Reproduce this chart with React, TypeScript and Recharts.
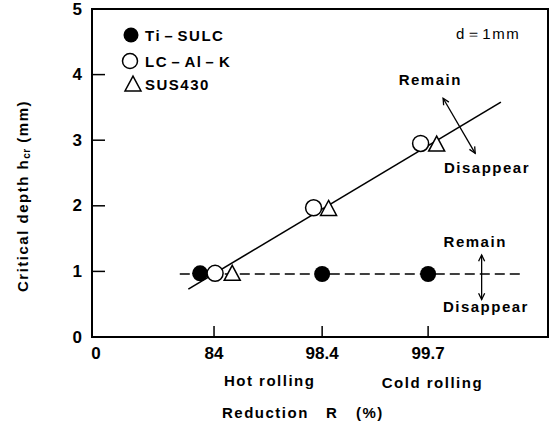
import React from 'react';
import {
  ScatterChart,
  Scatter,
  XAxis,
  YAxis,
  ReferenceLine,
  ReferenceDot,
  ReferenceArea,
} from 'recharts';

const FONT = '"Liberation Sans", Arial, Helvetica, sans-serif';

// X axis: reductions placed at evenly spaced positions (axis position units)
const xTickLabels = ['0', '84', '98.4', '99.7'];
const xTickPos = [0, 1.14, 2.15, 3.14];
const xMax = 4.26;
const yTicks = [0, 1, 2, 3, 4, 5];

// Series (x = axis position, y = critical depth in mm)
const tiSulcX = [1.01, 2.15, 3.14];
const tiSulcY = [0.97, 0.96, 0.96];
const lcAlKX = [1.15, 2.07, 3.07];
const lcAlKY = [0.97, 1.97, 2.95];
const sus430X = [1.31, 2.21, 3.22];
const sus430Y = [0.97, 1.96, 2.94];

// Boundary lines
const fitLineX = [0.9, 3.82];
const fitLineY = [0.73, 3.58];
const dashLineX = [0.82, 4.03];
const dashLineY = [0.96, 0.96];

// Arrows (double headed)
const upperArrow = [
  { x: 3.28, y: 3.64 },
  { x: 3.58, y: 2.8 },
];
const lowerArrow = [
  { x: 3.64, y: 1.25 },
  { x: 3.64, y: 0.57 },
];

// Annotations
const notes = [
  { text: 'd＝1mm', x: 3.7, y: 4.63, bold: false },
  { text: 'Remain', x: 3.16, y: 3.92, bold: true },
  { text: 'Disappear', x: 3.69, y: 2.59, bold: true },
  { text: 'Remain', x: 3.58, y: 1.46, bold: true },
  { text: 'Disappear', x: 3.68, y: 0.47, bold: true },
  { text: 'Hot  rolling', x: 1.66, y: -0.67, bold: true },
  { text: 'Cold  rolling', x: 3.18, y: -0.7, bold: true },
];

const zip = (xs: number[], ys: number[]) => xs.map((x, i) => ({ x, y: ys[i] }));

const tiSulc = zip(tiSulcX, tiSulcY);
const lcAlK = zip(lcAlKX, lcAlKY);
const sus430 = zip(sus430X, sus430Y);
const fitLine = zip(fitLineX, fitLineY);
const dashLine = zip(dashLineX, dashLineY);

const R = 8;

const FilledCircle = (p: any) => <circle cx={p.cx} cy={p.cy} r={R} fill="#000" />;
const OpenCircle = (p: any) => (
  <circle cx={p.cx} cy={p.cy} r={R} fill="#fff" stroke="#000" strokeWidth={1.5} />
);
const triPath = (cx: number, cy: number, s: number) => {
  const h = s * 0.87;
  return `M${cx},${cy - h / 2 - 1} L${cx + s / 2},${cy + h / 2} L${cx - s / 2},${cy + h / 2} Z`;
};
const Triangle = (p: any) => (
  <path d={triPath(p.cx, p.cy, 16)} fill="#fff" stroke="#000" strokeWidth={1.5} />
);
const NoShape = () => <g />;

const ArrowShape = (p: any) => {
  const { x1, y1, x2, y2 } = p;
  const a = Math.atan2(y2 - y1, x2 - x1);
  const head = (x: number, y: number, ang: number) => {
    const L = 7;
    const w = 0.45;
    return `M${x + L * Math.cos(ang + w)},${y + L * Math.sin(ang + w)} L${x},${y} L${
      x + L * Math.cos(ang - w)
    },${y + L * Math.sin(ang - w)}`;
  };
  return (
    <g>
      <line x1={x1} y1={y1} x2={x2} y2={y2} stroke="#000" strokeWidth={1.3} />
      <path d={head(x1, y1, a)} fill="none" stroke="#000" strokeWidth={1.3} />
      <path d={head(x2, y2, a + Math.PI)} fill="none" stroke="#000" strokeWidth={1.3} />
    </g>
  );
};

const makeText = (text: string, bold: boolean) => (p: any) => (
  <text
    x={p.cx}
    y={p.cy}
    textAnchor="middle"
    dominantBaseline="central"
    fontFamily={FONT}
    fontSize={15}
    fontWeight={bold ? 700 : 400}
    letterSpacing={1.5}
    fill="#000"
  >
    {text}
  </text>
);

const XTick = (p: any) => {
  const { x, y, payload } = p;
  const idx = xTickPos.indexOf(payload.value);
  const label = idx >= 0 ? xTickLabels[idx] : String(payload.value);
  return (
    <g>
      {payload.value !== 0 && <line x1={x} y1={y} x2={x} y2={y - 11} stroke="#000" strokeWidth={1.5} />}
      <text
        x={payload.value === 0 ? x + 4 : x}
        y={y + 16}
        textAnchor="middle"
        dominantBaseline="central"
        fontFamily={FONT}
        fontSize={17}
        fontWeight={700}
        fill="#000"
      >
        {label}
      </text>
    </g>
  );
};

const YTick = (p: any) => {
  const { x, y, payload } = p;
  const v = payload.value;
  return (
    <g>
      {v !== 0 && v !== 5 && <line x1={x} y1={y} x2={x + 13} y2={y} stroke="#000" strokeWidth={1.5} />}
      <text
        x={x - 10}
        y={y}
        textAnchor="end"
        dominantBaseline="central"
        fontFamily={FONT}
        fontSize={17}
        fontWeight={700}
        fill="#000"
      >
        {v}
      </text>
    </g>
  );
};

const legendItems = [
  { name: 'Ti－SULC', shape: 'filled', cx: 131, cy: 35 },
  { name: 'LC－Al－K', shape: 'open', cx: 130, cy: 61 },
  { name: 'SUS430', shape: 'tri', cx: 133, cy: 84 },
];

const LegendBox = () => (
  <g>
    {legendItems.map((it) => (
      <g key={it.name}>
        {it.shape === 'filled' && <circle cx={it.cx} cy={it.cy} r={7.5} fill="#000" />}
        {it.shape === 'open' && (
          <circle cx={it.cx} cy={it.cy} r={7.5} fill="#fff" stroke="#000" strokeWidth={1.5} />
        )}
        {it.shape === 'tri' && (
          <path d={triPath(it.cx, it.cy, 16)} fill="#fff" stroke="#000" strokeWidth={1.5} />
        )}
        <text
          x={145}
          y={it.cy}
          dominantBaseline="central"
          fontFamily={FONT}
          fontSize={15}
          fontWeight={700}
          letterSpacing={1.5}
          fill="#000"
        >
          {it.name}
        </text>
      </g>
    ))}
  </g>
);

const Titles = () => (
  <g fontFamily={FONT} fontWeight={700} fill="#000">
    <text
      transform="translate(22,196) rotate(-90)"
      textAnchor="middle"
      dominantBaseline="central"
      fontSize={15}
      letterSpacing={1.5}
    >
      Critical depth h
      <tspan fontSize={10} dy={4} letterSpacing={0.5}>
        cr
      </tspan>
      <tspan dy={-4}>{'  (mm)'}</tspan>
    </text>
    <text y={412} dominantBaseline="central" fontSize={15} letterSpacing={1.5}>
      <tspan x={222}>Reduction</tspan>
      <tspan x={326}>R</tspan>
      <tspan x={356}>(%)</tspan>
    </text>
  </g>
);

export default function App() {
  return (
    <div style={{ position: 'absolute', left: 0, top: 0, background: '#fff' }}>
      <ScatterChart width={550} height={436} margin={{ top: 9, right: 2, bottom: 0, left: 0 }}>
        <XAxis
          type="number"
          dataKey="x"
          domain={[0, xMax]}
          ticks={xTickPos}
          interval={0}
          tick={<XTick />}
          tickLine={false}
          tickSize={0}
          tickMargin={0}
          axisLine={{ stroke: '#000', strokeWidth: 2 }}
          height={99}
          allowDataOverflow
        />
        <YAxis
          type="number"
          dataKey="y"
          domain={[0, 5]}
          ticks={yTicks}
          interval={0}
          tick={<YTick />}
          tickLine={false}
          tickSize={0}
          tickMargin={0}
          axisLine={{ stroke: '#000', strokeWidth: 2 }}
          width={92}
          allowDataOverflow
        />
        <ReferenceArea
          x1={0}
          x2={xMax}
          y1={0}
          y2={5}
          fill="none"
          stroke="#000"
          strokeWidth={2}
          ifOverflow="visible"
        />
        <Scatter
          data={fitLine}
          line={{ stroke: '#000', strokeWidth: 1.6 }}
          shape={NoShape}
          isAnimationActive={false}
        />
        <Scatter
          data={dashLine}
          line={{ stroke: '#000', strokeWidth: 1.6, strokeDasharray: '10 5' }}
          shape={NoShape}
          isAnimationActive={false}
        />
        <Scatter name="Ti-SULC" data={tiSulc} shape={FilledCircle} isAnimationActive={false} />
        <Scatter name="LC-Al-K" data={lcAlK} shape={OpenCircle} isAnimationActive={false} />
        <Scatter name="SUS430" data={sus430} shape={Triangle} isAnimationActive={false} />
        <ReferenceLine segment={upperArrow} shape={ArrowShape} ifOverflow="visible" />
        <ReferenceLine segment={lowerArrow} shape={ArrowShape} ifOverflow="visible" />
        {notes.map((n, i) => (
          <ReferenceDot
            key={i}
            x={n.x}
            y={n.y}
            r={0}
            ifOverflow="visible"
            shape={makeText(n.text, n.bold)}
          />
        ))}
        <LegendBox />
        <Titles />
      </ScatterChart>
    </div>
  );
}
